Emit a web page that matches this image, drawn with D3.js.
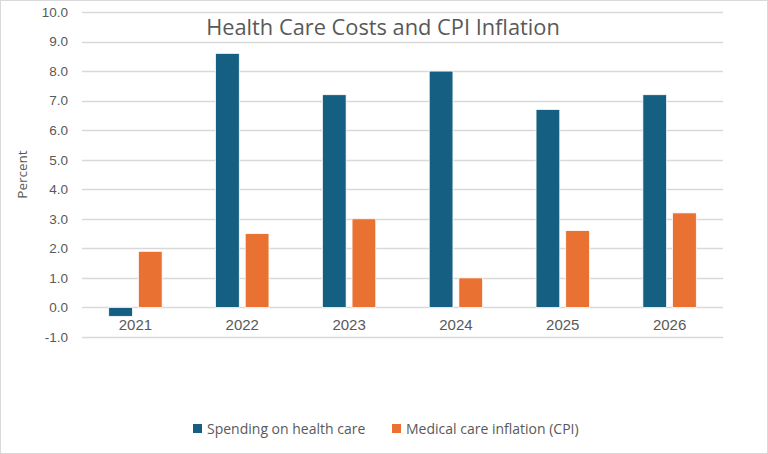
<!DOCTYPE html>
<html>
<head>
<meta charset="utf-8">
<script src="https://cdn.jsdelivr.net/npm/d3@7"></script>
<style>
  body { margin: 0; background: #fff; }
  svg { display: block; font-family: "Open Sans", "Noto Sans", sans-serif; }
</style>
</head>
<body>
<svg id="chart" width="768" height="454"></svg>
<script>
// data
var years = ["2021", "2022", "2023", "2024", "2025", "2026"];
var spending = [-0.3, 8.6, 7.2, 8.0, 6.7, 7.2];
var cpi = [1.9, 2.5, 3.0, 1.0, 2.6, 3.2];
var seriesNames = ["Spending on health care", "Medical care inflation (CPI)"];
var seriesColors = ["#156082", "#e97132"];
var yTicks = [-1, 0, 1, 2, 3, 4, 5, 6, 7, 8, 9, 10];

var W = 768, H = 454;
var margin = { top: 12, right: 45, bottom: 117, left: 82 };
var width = W - margin.left - margin.right,
    height = H - margin.top - margin.bottom;

var svg = d3.select("#chart");

// outer border
svg.append("rect")
    .attr("x", 0.5).attr("y", 0.5)
    .attr("width", W - 1).attr("height", H - 1)
    .attr("fill", "#fff")
    .attr("stroke", "#d9d9d9");

var g = svg.append("g")
    .attr("transform", "translate(" + margin.left + "," + margin.top + ")");

var x0 = d3.scaleBand().domain(years).range([0, width])
    .paddingInner(0.5).paddingOuter(0.25);
var x1 = d3.scaleBand().domain([0, 1]).range([0, x0.bandwidth()])
    .paddingInner(0.2);
var y = d3.scaleLinear().domain([-1, 10]).range([height, 0]);

// gridlines
g.append("g")
    .attr("class", "grid")
    .selectAll("line")
    .data(yTicks)
    .enter().append("line")
      .attr("x1", 0)
      .attr("x2", width)
      .attr("y1", function(d) { return Math.round(y(d)) + 0.5; })
      .attr("y2", function(d) { return Math.round(y(d)) + 0.5; })
      .attr("stroke", "#d9d9d9")
      .attr("stroke-width", 1.3);

// y axis labels (plain hyphen for the negative tick, as in the original)
var yAxis = g.append("g")
    .call(d3.axisLeft(y).tickValues(yTicks)
      .tickFormat(function(d) { return d.toFixed(1); })
      .tickSize(0).tickPadding(14));
yAxis.select(".domain").remove();
yAxis.selectAll("text")
    .attr("fill", "#595959")
    .style("font-size", "13.5px");

// bars
var rows = years.map(function(yr, i) { return { year: yr, vals: [spending[i], cpi[i]] }; });

var groups = g.selectAll(".year")
    .data(rows)
    .enter().append("g")
      .attr("class", "year")
      .attr("transform", function(d) { return "translate(" + x0(d.year) + ",0)"; });

groups.selectAll("rect")
    .data(function(d) { return d.vals.map(function(v, k) { return { k: k, v: v }; }); })
    .enter().append("rect")
      .attr("x", function(d) { return x1(d.k); })
      .attr("y", function(d) { return y(Math.max(0, d.v)); })
      .attr("width", x1.bandwidth())
      .attr("height", function(d) { return Math.abs(y(d.v) - y(0)); })
      .attr("fill", function(d) { return seriesColors[d.k]; })
      .attr("stroke", "#fff")
      .attr("stroke-width", 0.75);

// category labels just under the zero line
var xAxis = g.append("g")
    .attr("transform", "translate(0," + y(0) + ")")
    .call(d3.axisBottom(x0).tickSize(0).tickPadding(12));
xAxis.select(".domain").remove();
xAxis.selectAll("text")
    .attr("fill", "#595959")
    .style("font-size", "15px");

// title
svg.append("text")
    .attr("x", 383)
    .attr("y", 35)
    .attr("text-anchor", "middle")
    .attr("fill", "#595959")
    .style("font-size", "21.8px")
    .text("Health Care Costs and CPI Inflation");

// y label
svg.append("text")
    .attr("transform", "translate(27," + (margin.top + height / 2) + ") rotate(-90)")
    .attr("text-anchor", "middle")
    .attr("fill", "#595959")
    .style("font-size", "13.5px")
    .text("Percent");

// legend
var legendX = [193, 392];
var legend = svg.selectAll(".legend")
    .data(seriesNames)
    .enter().append("g")
      .attr("class", "legend")
      .attr("transform", function(d, i) { return "translate(" + legendX[i] + ",429)"; });
legend.append("rect")
    .attr("x", 0).attr("y", -5)
    .attr("width", 9).attr("height", 9)
    .attr("fill", function(d, i) { return seriesColors[i]; });
legend.append("text")
    .attr("x", 14)
    .attr("y", 5)
    .attr("fill", "#595959")
    .style("font-size", "14px")
    .text(function(d) { return d; });
</script>
</body>
</html>
